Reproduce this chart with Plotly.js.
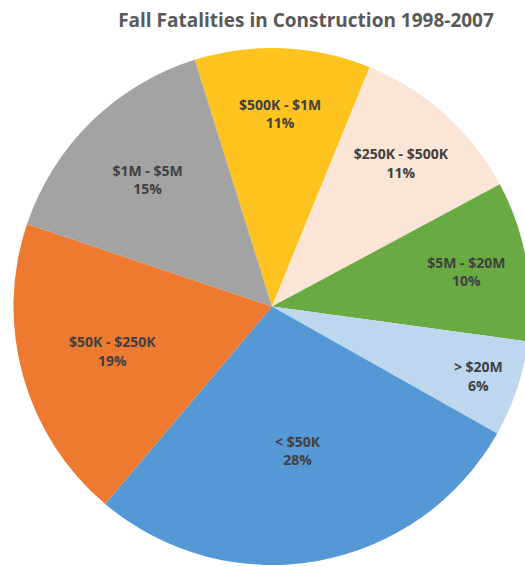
<!DOCTYPE html>
<html>
<head>
<meta charset="utf-8">
<script src="https://cdn.plot.ly/plotly-3.0.1.min.js"></script>
<style>
html, body { margin: 0; padding: 0; overflow: hidden; background: #fff; }
#chart { width: 560px; height: 567px; }
</style>
</head>
<body>
<div id="chart"></div>
<script>
const categories = ["$500K - $1M", "$250K - $500K", "$5M - $20M", "> $20M", "< $50K", "$50K - $250K", "$1M - $5M"];
const shares = [11, 11, 10, 6, 28, 19, 15];
const sliceColors = ["#FFC31F", "#FBE5D6", "#6AAA43", "#BDD7EE", "#5598D6", "#EE7A32", "#A3A3A3"];

const trace = {
  type: "pie",
  labels: categories,
  values: shares,
  sort: false,
  direction: "clockwise",
  rotation: -17.4,
  marker: { colors: sliceColors, line: { width: 0 } },
  texttemplate: "%{label}<br>%{percent:.0%}",
  textinfo: "label+percent",
  textposition: "inside",
  insidetextorientation: "horizontal",
  textfont: { family: "Open Sans, sans-serif", size: 14, color: "#404040", weight: 700 },
  hoverinfo: "none",
  showlegend: false,
  domain: { x: [13/560, 531/560], y: [2/567, 519/567] }
};

const layout = {
  width: 560,
  height: 567,
  margin: { l: 0, r: 0, t: 0, b: 0 },
  paper_bgcolor: "#ffffff",
  title: {
    text: "<b>Fall Fatalities in Construction 1998-2007</b>",
    font: { family: "Open Sans, sans-serif", size: 19, color: "#595959" },
    x: 306/560,
    xanchor: "center",
    y: 1 - 20/567,
    yanchor: "middle"
  },
  showlegend: false
};

Plotly.newPlot("chart", [trace], layout, { displayModeBar: false, staticPlot: true });
</script>
</body>
</html>
